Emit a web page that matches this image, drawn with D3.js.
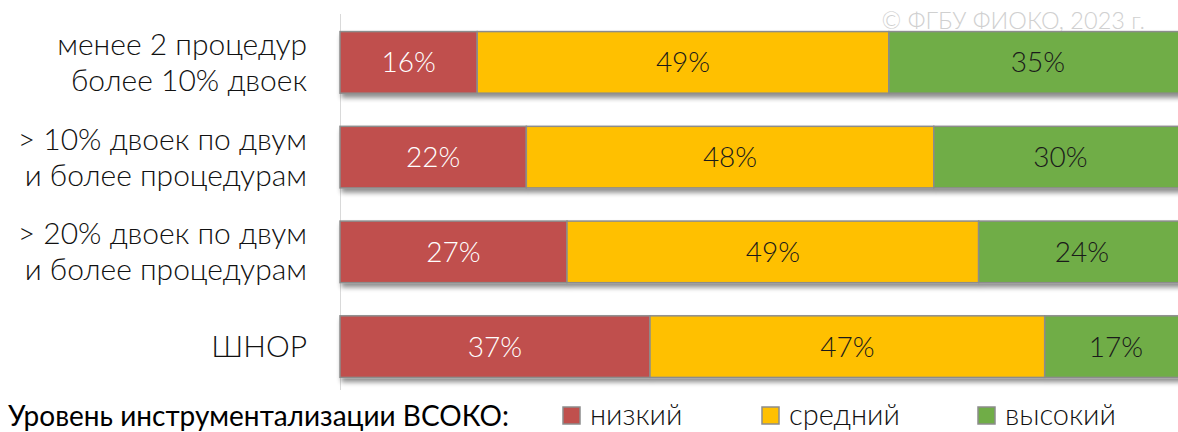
<!DOCTYPE html>
<html>
<head>
<meta charset="utf-8">
<script src="https://cdn.jsdelivr.net/npm/d3@7"></script>
<style>
  body { margin: 0; background: #fff; }
  svg { display: block; font-family: Lato, "Open Sans", sans-serif; }
</style>
</head>
<body>
<svg width="1178" height="432"></svg>
<script>
// data (labels show rounded values)
const categories = [
    ["менее 2 процедур", "более 10% двоек"],
    ["> 10% двоек по двум", "и более процедурам"],
    ["> 20% двоек по двум", "и более процедурам"],
    ["ШНОР"]
]
const seriesNames = ["низкий", "средний", "высокий"]
const lowValues = [16.2, 22.0, 26.8, 36.6]
const midValues = [48.6, 48.1, 48.6, 46.6]
const highValues = [35.2, 29.9, 24.4, 16.8]
const colors = ["#C0504D", "#FFC000", "#70AD47"]
const labelColors = ["#ffffff", "#1a1a1a", "#1a1a1a"]

const rows = categories.map((c, i) => ({
    key: i,
    lines: c,
    values: [lowValues[i], midValues[i], highValues[i]]
}))

const svg = d3.select("svg")
const fmt = d3.format(".0f")

const defs = svg.append("defs")
const shadow = defs.append("filter")
    .attr("id", "shadow")
    .attr("x", "-5%").attr("y", "-20%")
    .attr("width", "115%").attr("height", "160%")
shadow.append("feGaussianBlur").attr("in", "SourceAlpha").attr("stdDeviation", 2.5)
shadow.append("feOffset").attr("dx", 2).attr("dy", 4).attr("result", "b")
shadow.append("feComponentTransfer").append("feFuncA").attr("type", "linear").attr("slope", 0.45)
const merge = shadow.append("feMerge")
merge.append("feMergeNode")
merge.append("feMergeNode").attr("in", "SourceGraphic")

// scales
const scaleX = d3.scaleLinear()
    .domain([0, 100])
    .range([340, 1187])

const scaleY = d3.scaleBand()
    .domain(rows.map(d => d.key))
    .range([15, 394])
    .paddingInner(0.35)
    .paddingOuter(0.175)

// axis line
svg.append("line")
    .attr("x1", 340.5).attr("x2", 340.5)
    .attr("y1", 14).attr("y2", 390)
    .attr("stroke", "#d9d9d9")
    .attr("stroke-width", 1)

// copyright
svg.append("text")
    .attr("x", 1145)
    .attr("y", 29)
    .attr("text-anchor", "end")
    .attr("font-size", 23.5)
    .attr("font-weight", 300)
    .attr("fill", "#d0d0d0")
    .text("© ФГБУ ФИОКО, 2023 г.")

// bars
const groups = svg.selectAll("g.row")
    .data(rows)
    .enter()
    .append("g")
    .attr("class", "row")
    .attr("filter", "url(#shadow)")

groups.each(function (d) {
    const g = d3.select(this)
    let start = 0
    d.values.forEach((v, j) => {
        const x0 = scaleX(start)
        const x1 = scaleX(start + v)
        g.append("rect")
            .attr("x", x0)
            .attr("y", scaleY(d.key))
            .attr("width", x1 - x0)
            .attr("height", scaleY.bandwidth())
            .attr("fill", colors[j])
            .attr("stroke", "#8c8c8c")
            .attr("stroke-width", 1.5)
        start += v
    })
})

groups.each(function (d) {
    const g = d3.select(this.parentNode)
    let start = 0
    d.values.forEach((v, j) => {
        g.append("text")
            .attr("x", scaleX(start + v / 2))
            .attr("y", scaleY(d.key) + scaleY.bandwidth() / 2)
            .attr("dy", "0.36em")
            .attr("text-anchor", "middle")
            .attr("font-size", 28)
            .attr("font-weight", 300)
            .attr("fill", labelColors[j])
            .text(fmt(v) + "%")
        start += v
    })
})

// category labels
svg.selectAll("text.cat")
    .data(rows)
    .enter()
    .append("text")
    .attr("class", "cat")
    .attr("text-anchor", "end")
    .attr("font-size", 30)
    .attr("font-weight", 300)
    .attr("fill", "#111")
    .each(function (d) {
        const t = d3.select(this)
        const cy = scaleY(d.key) + scaleY.bandwidth() / 2
        const lh = 36
        const top = cy - (d.lines.length - 1) * lh / 2
        d.lines.forEach((line, k) => {
            t.append("tspan")
                .attr("x", 307)
                .attr("y", top + k * lh)
                .attr("dy", "0.35em")
                .text(line)
        })
    })

// legend
const legend = svg.append("g").attr("class", "legend")
legend.append("text")
    .attr("x", 8)
    .attr("y", 426)
    .attr("font-size", 28)
    .attr("fill", "#000")
    .text("Уровень инструментализации ВСОКО:")

const legendX = [563, 762, 978]
seriesNames.forEach((name, j) => {
    legend.append("rect")
        .attr("x", legendX[j])
        .attr("y", 407)
        .attr("width", 17)
        .attr("height", 17)
        .attr("fill", colors[j])
        .attr("stroke", "#8c8c8c")
        .attr("stroke-width", 1.5)
    legend.append("text")
        .attr("x", legendX[j] + 27)
        .attr("y", 425)
        .attr("font-size", 29)
        .attr("font-weight", 300)
        .attr("fill", "#111")
        .text(name)
})
</script>
</body>
</html>
